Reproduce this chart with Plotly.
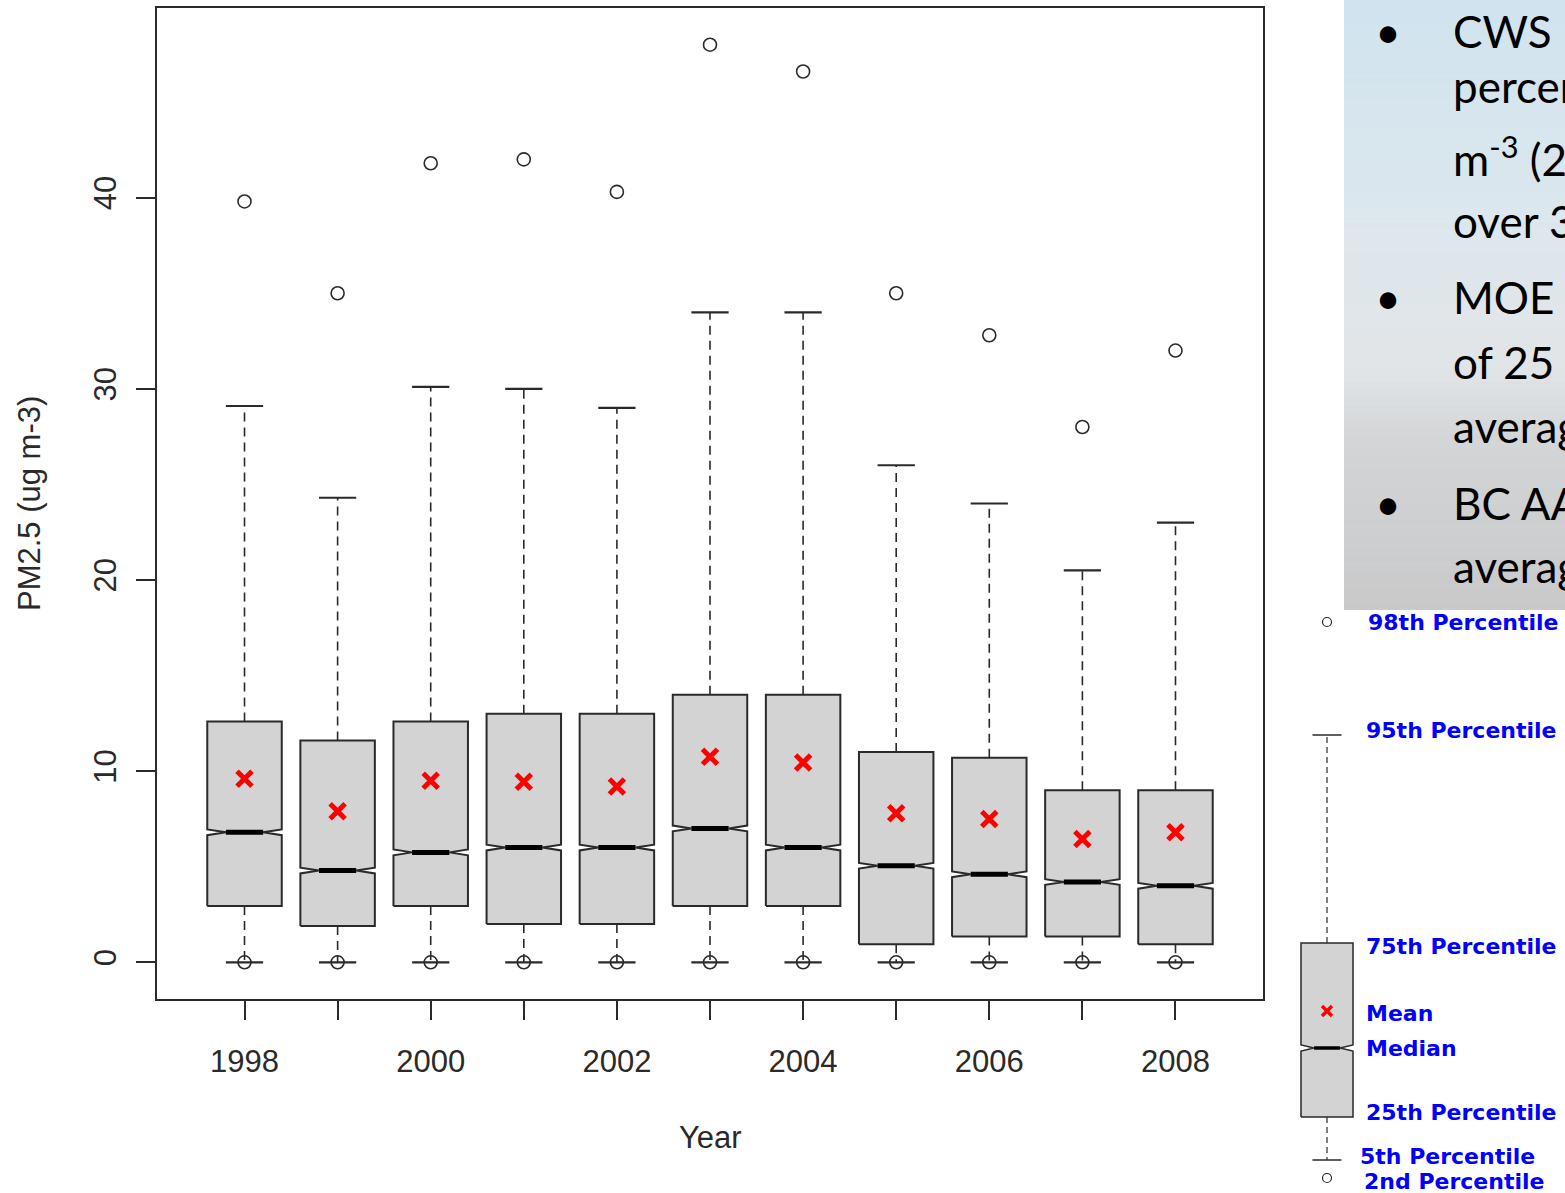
import plotly.graph_objects as go

# ---------------- data ----------------
years = [1998, 1999, 2000, 2001, 2002, 2003, 2004, 2005, 2006, 2007, 2008]
year_labels = ["1998", "", "2000", "", "2002", "", "2004", "", "2006", "", "2008"]
p98 = [39.8, 35.0, 41.8, 42.0, 40.3, 48.0, 46.6, 35.0, 32.8, 28.0, 32.0]
p95 = [29.1, 24.3, 30.1, 30.0, 29.0, 34.0, 34.0, 26.0, 24.0, 20.5, 23.0]
q3 = [12.6, 11.6, 12.6, 13.0, 13.0, 14.0, 14.0, 11.0, 10.7, 9.0, 9.0]
means = [9.6, 7.9, 9.5, 9.45, 9.2, 10.75, 10.45, 7.8, 7.5, 6.45, 6.8]
medians = [6.8, 4.8, 5.75, 6.0, 6.0, 7.0, 6.0, 5.05, 4.6, 4.2, 4.0]
q1 = [2.95, 1.9, 2.95, 2.0, 2.0, 2.95, 2.95, 0.95, 1.35, 1.35, 0.95]
p5 = [0, 0, 0, 0, 0, 0, 0, 0, 0, 0, 0]
p2 = [0, 0, 0, 0, 0, 0, 0, 0, 0, 0, 0]
y_ticks = [0, 10, 20, 30, 40]

panel_bullets = ["•", "•", "•"]
panel_lines = ["CWS", "percentile", "m<sup>-3</sup> (24", "over 3",
               "MOE", "of 25", "average", "BC AAQO", "average"]
key_labels = ["98th Percentile", "95th Percentile", "75th Percentile", "Mean",
              "Median", "25th Percentile", "5th Percentile", "2nd Percentile"]
# schematic key levels (key-axis units, bottom = 0)
key_p98, key_p95, key_q3, key_mean, key_med, key_q1, key_p5, key_p2 = 571, 458, 250, 182, 145, 76, 33, 15

# ---------------- layout constants ----------------
W, H = 1565, 1193
FONT = "Liberation Sans, Arial, sans-serif"
INK = "#2a2a2a"
half_w = 0.4       # half box width (years)
cap_w = 0.2        # half staple width
notch_h = 0.15     # notch half height

fig = go.Figure()

# boxes (notched polygons)
for i, yr in enumerate(years):
    lo, hi, md = q1[i], q3[i], medians[i]
    xs = [yr - half_w, yr + half_w, yr + half_w, yr + half_w / 2, yr + half_w,
          yr + half_w, yr - half_w, yr - half_w, yr - half_w / 2, yr - half_w, yr - half_w]
    ys = [lo, lo, md - notch_h, md, md + notch_h, hi, hi, md + notch_h, md, md - notch_h, lo]
    fig.add_trace(go.Scatter(x=xs, y=ys, mode="lines", fill="toself", fillcolor="#d3d3d3",
                             line=dict(color=INK, width=2), hoverinfo="skip", showlegend=False))

# whiskers (dashed)
wx, wy = [], []
for i, yr in enumerate(years):
    wx += [yr, yr, None, yr, yr, None]
    wy += [q3[i], p95[i], None, q1[i], p5[i], None]
fig.add_trace(go.Scatter(x=wx, y=wy, mode="lines", line=dict(color=INK, width=1.6, dash="9px,6px"),
                         hoverinfo="skip", showlegend=False))

# staples
sx, sy = [], []
for i, yr in enumerate(years):
    sx += [yr - cap_w, yr + cap_w, None, yr - cap_w, yr + cap_w, None]
    sy += [p95[i], p95[i], None, p5[i], p5[i], None]
fig.add_trace(go.Scatter(x=sx, y=sy, mode="lines", line=dict(color=INK, width=2.2),
                         hoverinfo="skip", showlegend=False))

# medians (thick)
mx, my = [], []
for i, yr in enumerate(years):
    mx += [yr - half_w / 2, yr + half_w / 2, None]
    my += [medians[i], medians[i], None]
fig.add_trace(go.Scatter(x=mx, y=my, mode="lines", line=dict(color="black", width=5),
                         hoverinfo="skip", showlegend=False))

# 98th / 2nd percentile circles
fig.add_trace(go.Scatter(x=years + years, y=p98 + p2, mode="markers",
                         marker=dict(symbol="circle-open", size=13, color=INK, line=dict(width=1.6)),
                         hoverinfo="skip", showlegend=False))

# means
fig.add_trace(go.Scatter(x=years, y=means, mode="markers",
                         marker=dict(symbol="x-thin", size=15, color="#ff0000",
                                     line=dict(width=5, color="#ff0000")),
                         hoverinfo="skip", showlegend=False))

# ---------------- right text panel (clipped) ----------------
PX0, PX1, PY1 = 1344, 1565, 610
n_bands = 80
stops = [(0.0, (0xd0, 0xe3, 0xee)), (0.35, (0xdc, 0xe7, 0xee)), (0.6, (0xe2, 0xe5, 0xe7)),
         (0.72, (0xd3, 0xd5, 0xd7)), (1.0, (0xc9, 0xc9, 0xca))]
def grad(t):
    for (t0, c0), (t1, c1) in zip(stops[:-1], stops[1:]):
        if t0 <= t <= t1:
            f = (t - t0) / (t1 - t0)
            return "rgb(%d,%d,%d)" % tuple(round(a + (b - a) * f) for a, b in zip(c0, c1))
    return "rgb(201,201,202)"
for k in range(n_bands):
    y0 = PY1 * k / n_bands
    y1 = PY1 * (k + 1) / n_bands
    fig.add_shape(type="rect", xref="x3", yref="y3", x0=PX0, x1=PX1, y0=y0, y1=y1 + 0.5,
                  fillcolor=grad((k + 0.5) / n_bands), line=dict(width=0), layer="below")

line_y = [37, 92, 165, 227, 303, 368, 432, 509, 572]
fig.add_trace(go.Scatter(x=[1453] * len(panel_lines), y=line_y, mode="text", text=panel_lines,
                         textposition="middle right", cliponaxis=True,
                         textfont=dict(family="Lato, Noto Sans, sans-serif", size=44, color="#000000"),
                         xaxis="x3", yaxis="y3", hoverinfo="skip", showlegend=False))
fig.add_trace(go.Scatter(x=[1388] * 3, y=[line_y[0], line_y[4], line_y[7]], mode="text",
                         text=panel_bullets, textposition="middle center", cliponaxis=True,
                         textfont=dict(family="Lato, Noto Sans, sans-serif", size=44, color="#000000"),
                         xaxis="x3", yaxis="y3", hoverinfo="skip", showlegend=False))

# ---------------- key diagram ----------------
KC, KW, KCAP, KN = 1327, 26, 14.5, 3
kfill_x = [KC - KW, KC + KW, KC + KW, KC + KW / 2, KC + KW, KC + KW, KC - KW, KC - KW, KC - KW / 2, KC - KW, KC - KW]
kfill_y = [key_q1, key_q1, key_med - KN, key_med, key_med + KN, key_q3, key_q3, key_med + KN, key_med, key_med - KN, key_q1]
fig.add_trace(go.Scatter(x=kfill_x, y=kfill_y, mode="lines", fill="toself", fillcolor="#d3d3d3",
                         line=dict(color=INK, width=1.5), xaxis="x4", yaxis="y4",
                         hoverinfo="skip", showlegend=False))
fig.add_trace(go.Scatter(x=[KC, KC, None, KC, KC], y=[key_q3, key_p95, None, key_q1, key_p5], mode="lines",
                         line=dict(color=INK, width=1.2, dash="6px,4px"), xaxis="x4", yaxis="y4",
                         hoverinfo="skip", showlegend=False))
fig.add_trace(go.Scatter(x=[KC - KCAP, KC + KCAP, None, KC - KCAP, KC + KCAP],
                         y=[key_p95, key_p95, None, key_p5, key_p5], mode="lines",
                         line=dict(color=INK, width=1.5), xaxis="x4", yaxis="y4",
                         hoverinfo="skip", showlegend=False))
fig.add_trace(go.Scatter(x=[KC - KW / 2, KC + KW / 2], y=[key_med, key_med], mode="lines",
                         line=dict(color="black", width=3.5), xaxis="x4", yaxis="y4",
                         hoverinfo="skip", showlegend=False))
fig.add_trace(go.Scatter(x=[KC, KC], y=[key_p98, key_p2], mode="markers",
                         marker=dict(symbol="circle-open", size=9, color=INK, line=dict(width=1.2)),
                         xaxis="x4", yaxis="y4", hoverinfo="skip", showlegend=False))
fig.add_trace(go.Scatter(x=[KC], y=[key_mean], mode="markers",
                         marker=dict(symbol="x-thin", size=10, color="#ff0000",
                                     line=dict(width=3.5, color="#ff0000")),
                         xaxis="x4", yaxis="y4", hoverinfo="skip", showlegend=False))
key_label_y = [569, 461, 245, 178, 143, 79, 35, 10]
key_label_x = [1368, 1366, 1366, 1366, 1366, 1366, 1360, 1364]
fig.add_trace(go.Scatter(x=key_label_x, y=key_label_y, mode="text", text=key_labels,
                         textposition="middle right", cliponaxis=False,
                         textfont=dict(family="DejaVu Sans, sans-serif", size=22, color="#0000ff",
                                       weight="bold"),
                         xaxis="x4", yaxis="y4", hoverinfo="skip", showlegend=False))

# ---------------- axes ----------------
axis_common = dict(showgrid=False, zeroline=False, showline=True, mirror=True,
                   linecolor=INK, linewidth=2, ticks="outside", ticklen=19, tickwidth=2,
                   tickcolor=INK, tickfont=dict(family=FONT, size=31, color=INK))
fig.update_layout(
    width=W, height=H, margin=dict(l=0, r=0, t=0, b=0),
    paper_bgcolor="white", plot_bgcolor="white", showlegend=False,
    xaxis=dict(domain=[157 / W, 1263 / W], range=[1997.06, 2008.94],
               tickmode="array", tickvals=years, ticktext=year_labels, ticklabelstandoff=15,
               **axis_common),
    yaxis=dict(domain=[1 - 999 / H, 1 - 8 / H], range=[-1.92, 49.92],
               tickmode="array", tickvals=y_ticks, tickangle=-90, ticklabelstandoff=8,
               **axis_common),
    xaxis3=dict(domain=[PX0 / W, 1], range=[PX0, PX1], visible=False, anchor="y3"),
    yaxis3=dict(domain=[1 - PY1 / H, 1], range=[PY1, 0], visible=False, anchor="x3"),
    xaxis4=dict(domain=[1280 / W, 1], range=[1280, 1565], visible=False, anchor="y4"),
    yaxis4=dict(domain=[0, 1 - 612 / H], range=[0, 581], visible=False, anchor="x4"),
)

fig.add_annotation(text="Year", xref="paper", yref="paper", x=(157 + 1263) / 2 / W, y=1 - 1137 / H,
                   showarrow=False, xanchor="center", yanchor="middle",
                   font=dict(family=FONT, size=31, color=INK))
fig.add_annotation(text="PM2.5 (ug m-3)", xref="paper", yref="paper", x=29 / W, y=1 - 504 / H,
                   showarrow=False, xanchor="center", yanchor="middle", textangle=-90,
                   font=dict(family=FONT, size=31, color=INK))

fig.write_html("out.html", config={"displayModeBar": False},
               post_script="document.body.style.margin='0';document.body.style.overflow='hidden';")
